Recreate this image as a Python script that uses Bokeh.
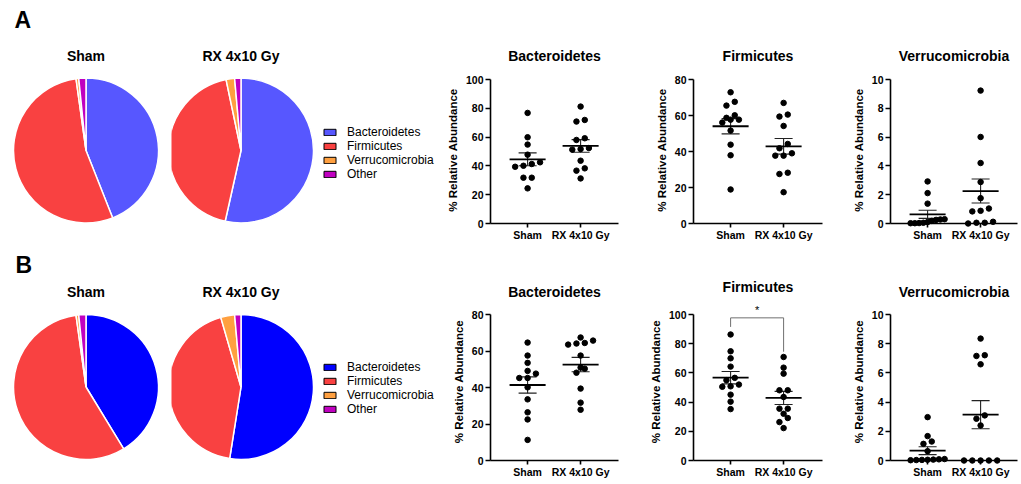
import numpy as np
from bokeh.plotting import figure
from bokeh.layouts import row, column
from bokeh.models import (Range1d, FixedTicker, SingleIntervalTicker, ColumnDataSource,
                          Label, Title)
from bokeh.embed import file_html
from bokeh.resources import INLINE

FONT = "Liberation Sans"

# ---------------- data ----------------
phyla = ["Bacteroidetes", "Firmicutes", "Verrucomicrobia", "Other"]
groups = ["Sham", "RX 4x10 Gy"]

pie_A_sham = [44.0, 53.8, 0.6, 1.6]
pie_A_rx = [53.5, 43.2, 1.9, 1.4]
pie_B_sham = [41.3, 56.5, 0.6, 1.6]
pie_B_rx = [52.5, 43.0, 3.1, 1.4]

colors_A = ["#5757FF", "#F94141", "#FFA040", "#C000C0"]
colors_B = ["#0000FF", "#F94141", "#FFA040", "#C000C0"]

A_bact_sham = [76.8, 59.9, 54.8, 47.8, 42.5, 41.3, 40.1, 39.4, 31.8, 31.8, 24.4]
A_bact_rx = [81.2, 71.9, 70.8, 59.2, 58.0, 52.4, 51.7, 51.3, 43.6, 38.3, 36.7, 31.3]
A_firm_sham = [72.9, 67.6, 65.5, 60.1, 58.7, 57.7, 57.7, 56.1, 51.6, 43.8, 37.9, 18.9]
A_firm_rx = [67.0, 60.5, 59.4, 54.2, 44.2, 41.8, 39.0, 37.7, 37.7, 28.2, 27.5, 17.4]
A_verr_sham = [2.92, 2.11, 1.38, 0.30, 0.28, 0.25, 0.18, 0.10, 0.05, 0.03, 0.02, 0.02]
A_verr_rx = [9.23, 6.01, 4.20, 2.88, 1.76, 1.04, 0.88, 0.84, 0.12, 0.05, 0.05, 0.0]

B_bact_sham = [64.6, 57.5, 53.5, 49.1, 47.6, 45.2, 45.2, 40.1, 33.5, 26.4, 22.5, 11.3]
B_bact_rx = [67.4, 65.7, 64.4, 64.1, 63.5, 57.5, 50.9, 50.3, 48.1, 39.4, 31.7, 27.8]
B_firm_sham = [86.3, 74.8, 70.0, 64.3, 56.6, 55.0, 52.0, 50.8, 50.5, 45.1, 40.3, 35.2]
B_firm_rx = [70.9, 63.6, 59.5, 48.1, 48.1, 43.5, 35.5, 35.5, 32.0, 29.1, 26.3, 22.2]
B_verr_sham = [2.97, 1.67, 1.30, 1.14, 0.64, 0.10, 0.08, 0.06, 0.05, 0.04, 0.03, 0.02]
B_verr_rx = [8.35, 7.21, 7.16, 6.59, 3.09, 2.86, 2.40, 0.0, 0.0, 0.0, 0.0, 0.0]

# significance bracket (Firmicutes, panel B)
bracket_x = [1, 1, 2, 2]
bracket_y = [91.5, 97.7, 97.7, 74.5]
bracket_text = "*"

# ---------------- layout constants (pixels) ----------------
PX_PER_X = 53.0      # scatter panels: pixels per category unit
PIE_PX = 72.5        # pie radius in pixels

# row A: figure top at 0; frame 76..223 ; row B: figure top 244; frame 302..460
ROW = {
    "A": dict(height=244, top=76, bottom=21, axis_gap=3, axis_h=144,
              pie_cy=74.0, title_sf=25, pie_title_sf=25, letter_sf=1),
    "B": dict(height=240, top=58, bottom=24, axis_gap=12, axis_h=146,
              pie_cy=84.5, title_sf=6, pie_title_sf=5, letter_sf=3),
}


def swarm(vals, ypx, step_px=8.3, span_px=34.0, thresh_px=4.5):
    vals = np.asarray(vals, dtype=float)
    order = np.argsort(vals, kind="stable")
    off = np.zeros(len(vals))
    bins, cur = [], [order[0]]
    for idx in order[1:]:
        if (vals[idx] - vals[cur[0]]) * ypx < thresh_px:
            cur.append(idx)
        else:
            bins.append(cur)
            cur = [idx]
    bins.append(cur)
    for b in bins:
        n = len(b)
        step = step_px if n < 2 else min(step_px, span_px / (n - 1))
        for k, idx in enumerate(b):
            off[idx] = (k - (n - 1) / 2) * step / PX_PER_X
    return off


def mk_title(text, size, standoff, align="center", offset=0, style="bold"):
    return Title(text=text, align=align, offset=offset, standoff=standoff,
                 text_font=FONT, text_font_size=size, text_font_style=style,
                 text_color="black")


def pie_fig(vals, colors, rowkey, width, cx, title, title_align, title_offset,
            letter=None, letter_offset=0, legend_pos=None):
    r = ROW[rowkey]
    frame_h = r["height"] - r["top"] - r["bottom"]
    cy = r["pie_cy"]  # centre, measured down from frame top
    p = figure(width=width, height=r["height"],
               x_range=Range1d(-cx / PIE_PX, (width - cx) / PIE_PX),
               y_range=Range1d(-(frame_h - cy) / PIE_PX, cy / PIE_PX),
               x_axis_type=None, y_axis_type=None,
               output_backend="svg", toolbar_location=None,
               min_border_left=0, min_border_right=0,
               min_border_top=r["top"], min_border_bottom=r["bottom"])
    p.outline_line_color = None
    frac = np.array(vals, dtype=float) / np.sum(vals)
    ends = np.cumsum(frac) * 2 * np.pi
    starts = ends - frac * 2 * np.pi
    src = ColumnDataSource(dict(phylum=phyla, start=np.pi / 2 - starts,
                                end=np.pi / 2 - ends, color=colors))
    if legend_pos is not None:
        p.wedge(x=0, y=0, radius=0, start_angle="start", end_angle="end",
                direction="clock", fill_color="color", line_color="black",
                line_width=1, source=src, legend_field="phylum")
    p.wedge(x=0, y=0, radius=1, start_angle="start", end_angle="end",
            direction="clock", fill_color="color", line_color="white",
            line_width=1.5, source=src)
    p.add_layout(mk_title(title, "14px", r["pie_title_sf"], title_align, title_offset), "above")
    if letter is not None:
        p.add_layout(mk_title(letter, "23px", r["letter_sf"], "left", letter_offset), "above")
    if legend_pos is not None:
        lg = p.legend[0]
        lg.location = legend_pos
        lg.glyph_width = 15
        lg.glyph_height = 8
        lg.label_height = 14
        lg.spacing = 0
        lg.padding = 0
        lg.margin = 0
        lg.label_standoff = 10
        lg.label_text_font = FONT
        lg.label_text_font_size = "12px"
        lg.label_text_color = "black"
        lg.border_line_color = None
        lg.background_fill_alpha = 0
    return p


def scatter_fig(title, sham, rx, ymax, ystep, rowkey, width, left, frame_w,
                title_sf, bracket=False):
    r = ROW[rowkey]
    right = width - left - frame_w
    ypx = r["axis_h"] / ymax
    y_end = ymax + r["axis_gap"] / ypx
    p = figure(width=width, height=r["height"],
               x_range=Range1d(0.3, 0.3 + frame_w / PX_PER_X),
               y_range=Range1d(0, y_end),
               output_backend="svg", toolbar_location=None,
               min_border_left=left, min_border_right=right,
               min_border_top=r["top"], min_border_bottom=r["bottom"])
    p.outline_line_color = None
    p.xgrid.visible = False
    p.ygrid.visible = False
    p.add_layout(mk_title(title, "14px", title_sf), "above")

    for i, vals in enumerate([sham, rx]):
        pos = i + 1
        off = swarm(vals, ypx)
        src = ColumnDataSource(dict(x=pos + off, y=vals))
        m = float(np.mean(vals))
        se = float(np.std(vals, ddof=1) / np.sqrt(len(vals)))
        p.segment(x0=[pos, pos - 0.17, pos - 0.17], x1=[pos, pos + 0.17, pos + 0.17],
                  y0=[m - se, m - se, m + se], y1=[m + se, m - se, m + se],
                  line_width=1.1, line_color="#222222")
        p.segment(x0=[pos - 0.34], x1=[pos + 0.34], y0=[m], y1=[m],
                  line_width=1.8, line_color="black")
        p.scatter("x", "y", source=src, size=5.5, color="black", level="annotation")

    if bracket:
        p.line(bracket_x, bracket_y, line_color="#707070", line_width=1)
        p.add_layout(Label(x=float(np.mean(bracket_x)), y=max(bracket_y),
                           text=bracket_text, text_align="center",
                           text_baseline="alphabetic", y_offset=8,
                           text_font=FONT, text_font_size="11px",
                           text_color="black"))

    p.xaxis.ticker = FixedTicker(ticks=[1, 2])
    p.xaxis.major_label_overrides = {1: groups[0], 2: groups[1]}
    p.yaxis.ticker = SingleIntervalTicker(interval=ystep, num_minor_ticks=0)
    p.yaxis.bounds = (0, ymax)
    p.yaxis.axis_label = "% Relative Abundance"
    for ax in p.axis:
        ax.axis_line_color = "black"
        ax.axis_line_width = 1.6
        ax.major_tick_line_color = "black"
        ax.major_tick_line_width = 1.6
        ax.major_tick_in = 0
        ax.minor_tick_line_color = None
        ax.major_label_text_font = FONT
        ax.major_label_text_font_size = "10.5px"
        ax.major_label_text_font_style = "bold"
        ax.major_label_text_color = "black"
        ax.axis_label_text_font = FONT
        ax.axis_label_text_font_size = "11.5px"
        ax.axis_label_text_font_style = "bold"
        ax.axis_label_text_color = "black"
    p.xaxis.major_tick_out = 4
    p.xaxis.major_label_standoff = 1
    p.yaxis.major_tick_out = 5
    p.yaxis.major_label_standoff = 2
    p.yaxis.axis_label_standoff = 4
    return p


pA1 = pie_fig(pie_A_sham, colors_A, "A", 171, 85.5, groups[0], "center", 0,
              letter="A", letter_offset=14)
pA2 = pie_fig(pie_A_rx, colors_A, "A", 269, 69.5, groups[1], "left", 31,
              legend_pos=(151, 42))
sA1 = scatter_fig("Bacteroidetes", A_bact_sham, A_bact_rx, 100, 20, "A", 200, 50, 128, ROW["A"]["title_sf"])
sA2 = scatter_fig("Firmicutes", A_firm_sham, A_firm_rx, 80, 20, "A", 200, 53, 129, ROW["A"]["title_sf"])
sA3 = scatter_fig("Verrucomicrobia", A_verr_sham, A_verr_rx, 10, 2, "A", 181, 50, 127, ROW["A"]["title_sf"])

pB1 = pie_fig(pie_B_sham, colors_B, "B", 171, 85.5, groups[0], "center", 0,
              letter="B", letter_offset=15)
pB2 = pie_fig(pie_B_rx, colors_B, "B", 269, 69.5, groups[1], "left", 31,
              legend_pos=(151, 44))
sB1 = scatter_fig("Bacteroidetes", B_bact_sham, B_bact_rx, 80, 20, "B", 200, 50, 128, ROW["B"]["title_sf"])
sB2 = scatter_fig("Firmicutes", B_firm_sham, B_firm_rx, 100, 20, "B", 200, 53, 129, 16,
                  bracket=True)
sB3 = scatter_fig("Verrucomicrobia", B_verr_sham, B_verr_rx, 10, 2, "B", 181, 50, 127, ROW["B"]["title_sf"])

layout = column(row(pA1, pA2, sA1, sA2, sA3), row(pB1, pB2, sB1, sB2, sB3))

open("out.html", "w").write(file_html(layout, INLINE))
